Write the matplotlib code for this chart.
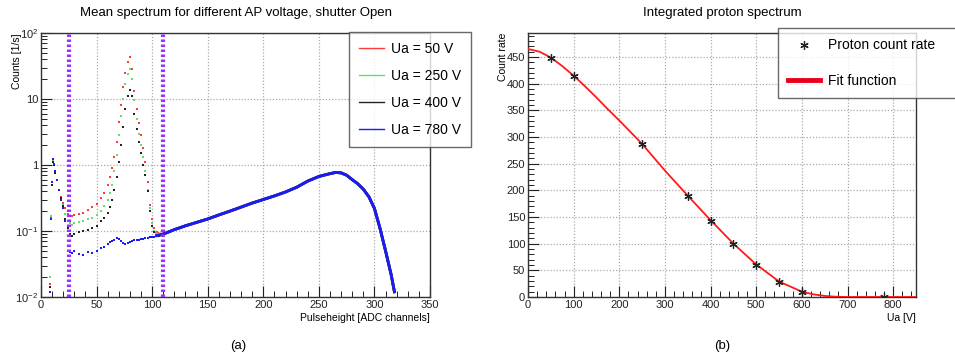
import numpy as np
import matplotlib
matplotlib.use('Agg')
import matplotlib.pyplot as plt
from matplotlib.ticker import MultipleLocator, FixedLocator, LogLocator, NullFormatter
from matplotlib.lines import Line2D

plt.rcParams['font.family'] = ['Liberation Sans', 'DejaVu Sans']
plt.rcParams['mathtext.fontset'] = 'custom'
plt.rcParams['mathtext.rm'] = 'Liberation Sans'
plt.rcParams['mathtext.default'] = 'regular'

# ---- left panel data ----
head_x = [8, 9, 10, 11, 12, 13, 14, 16, 18, 20, 22, 24, 26, 28, 30, 34, 38, 42, 46, 50,
          54, 57, 60, 62, 64, 66, 68, 70, 72, 74, 76, 78, 80, 82, 84, 86, 88, 90, 92, 94,
          96, 98, 100, 102, 104, 106, 108]
red_head = [0.016, 0.16, 0.5, 1.2, 1.0, 0.75, 0.6, 0.42, 0.33, 0.27, 0.22, 0.18, 0.17, 0.17,
            0.175, 0.18, 0.19, 0.21, 0.23, 0.26, 0.32, 0.38, 0.5, 0.65, 0.9, 1.3, 2.2, 4.5,
            8, 15, 25, 36, 44, 28, 13, 7, 4.3, 2.8, 1.8, 1.1, 0.55, 0.25, 0.15, 0.11, 0.095,
            0.09, 0.09]
green_head = [0.02, 0.17, 0.5, 1.15, 1.0, 0.75, 0.6, 0.42, 0.32, 0.25, 0.18, 0.14, 0.13, 0.125,
              0.13, 0.135, 0.14, 0.15, 0.16, 0.175, 0.2, 0.24, 0.3, 0.37, 0.5, 0.8, 1.4, 2.8,
              5.5, 10, 17, 24, 28, 20, 9.5, 5, 3, 2, 1.3, 0.8, 0.42, 0.22, 0.13, 0.1, 0.09,
              0.088, 0.088]
black_head = [0.014, 0.15, 0.5, 1.1, 1.0, 0.75, 0.6, 0.42, 0.32, 0.24, 0.15, 0.11, 0.09, 0.085,
              0.09, 0.095, 0.1, 0.105, 0.11, 0.12, 0.14, 0.16, 0.19, 0.23, 0.3, 0.42, 0.65, 1.1,
              2.0, 3.8, 7, 11, 13.5, 11, 6, 3.5, 2.2, 1.5, 1.0, 0.7, 0.4, 0.2, 0.12, 0.095,
              0.085, 0.085, 0.088]
blue_head = [0.012, 0.15, 0.55, 1.25, 1.05, 0.8, 0.6, 0.42, 0.3, 0.22, 0.14, 0.07, 0.048, 0.047,
             0.05, 0.045, 0.043, 0.048, 0.047, 0.05, 0.055, 0.058, 0.063, 0.068, 0.07, 0.074,
             0.077, 0.075, 0.07, 0.065, 0.063, 0.066, 0.068, 0.07, 0.072, 0.073, 0.074, 0.075,
             0.075, 0.077, 0.078, 0.08, 0.08, 0.082, 0.085, 0.087, 0.088]
tail_x = [110, 115, 120, 125, 130, 140, 150, 160, 170, 180, 190, 200, 210, 220, 230, 240,
          250, 260, 265, 270, 275, 280, 285, 290, 295, 300, 305, 310, 315, 318]
tail_y = [0.09, 0.097, 0.105, 0.112, 0.12, 0.135, 0.152, 0.175, 0.2, 0.23, 0.265, 0.3, 0.34,
          0.39, 0.46, 0.57, 0.67, 0.74, 0.77, 0.76, 0.70, 0.60, 0.52, 0.43, 0.33, 0.22, 0.11,
          0.05, 0.022, 0.012]
series_labels = ['Ua = 50 V', 'Ua = 250 V', 'Ua = 400 V', 'Ua = 780 V']
series_colors = ['#ff3b3b', '#66dd66', '#222222', '#1a1aff']
cut_lines = [25, 110]

# ---- right panel data ----
ua = [50, 100, 250, 350, 400, 450, 500, 550, 600, 780]
rate = [448, 415, 287, 190, 143, 100, 60, 28, 10, 0]
fit_ua = [0, 25, 50, 75, 100, 125, 150, 175, 200, 250, 300, 350, 400, 450, 500, 550, 600,
          625, 650, 675, 700, 850]
fit_rate = [465, 460, 449, 433, 415, 395, 374, 352, 331, 287, 237, 190, 144, 100, 61, 29, 10,
            5, 2, 0.5, 0, 0]

W, H = 955, 363
fig = plt.figure(figsize=(W / 100, H / 100), dpi=100)

def fx(px):
    return px / W

def fy(py):
    return 1 - py / H

ax1 = fig.add_axes([fx(41), fy(297), fx(430) - fx(41), fy(33) - fy(297)])
ax2 = fig.add_axes([fx(528), fy(297), fx(916) - fx(528), fy(33) - fy(297)])

grid_kw = dict(color='#aaaaaa', linestyle=(0, (1, 1.5)), linewidth=0.9)

# left panel
heads = [red_head, green_head, black_head, blue_head]
for vals, col, lab in zip(heads, series_colors, series_labels):
    xs = head_x + tail_x
    ys = vals + tail_y
    ax1.plot(xs, ys, linestyle='none', marker='s', markersize=2.0, color=col, mew=0)
    ax1.plot(xs[-len(tail_x) - 3:], ys[-len(tail_x) - 3:], color=col, linewidth=2.0)
for cx in cut_lines:
    ax1.axvline(cx, color='#9b30ff', linestyle=(0, (0.6, 0.6)), linewidth=3, zorder=4)

ax1.set_yscale('log')
ax1.set_xlim(0, 350)
ax1.set_ylim(0.01, 100)
ax1.xaxis.set_major_locator(MultipleLocator(50))
ax1.xaxis.set_minor_locator(MultipleLocator(10))
ax1.yaxis.set_major_locator(FixedLocator([0.01, 0.1, 1, 10, 100]))
ax1.set_yticklabels(['$10^{-2}$', '$10^{-1}$', '1', '10', '$10^{2}$'])
ax1.yaxis.set_minor_locator(LogLocator(base=10, subs=np.arange(2, 10), numticks=20))
ax1.yaxis.set_minor_formatter(NullFormatter())
ax1.grid(True, which='major', **grid_kw)
ax1.set_title('Mean spectrum for different AP voltage, shutter Open', fontsize=9.5, pad=12)
ax1.set_xlabel('Pulseheight [ADC channels]', fontsize=7.5, loc='right', labelpad=2)
ax1.set_ylabel('Counts [1/s]', fontsize=7.5, loc='top')
ax1.yaxis.set_label_coords(-0.050, 1.0)

handles1 = [Line2D([], [], color=c, linewidth=1) for c in series_colors]
fig.legend(handles1, series_labels, loc='upper left', bbox_to_anchor=(fx(349), fy(32)),
           bbox_transform=fig.transFigure, frameon=True, fancybox=False, edgecolor='#444444',
           fontsize=10, handlelength=1.8, handletextpad=0.5, labelspacing=0.95,
           borderpad=0.7, borderaxespad=0)

# right panel
ax2.plot(fit_ua, fit_rate, color='#ff1a1a', linewidth=1.3, zorder=3)
ax2.plot(ua, rate, linestyle='none', marker=(6, 2, 0), markersize=6, color='#222222',
         mew=0.9, zorder=4)
ax2.set_xlim(0, 850)
ax2.set_ylim(0, 495)
ax2.xaxis.set_major_locator(MultipleLocator(100))
ax2.xaxis.set_minor_locator(MultipleLocator(20))
ax2.yaxis.set_major_locator(MultipleLocator(50))
ax2.yaxis.set_minor_locator(MultipleLocator(10))
ax2.grid(True, which='major', **grid_kw)
ax2.set_title('Integrated proton spectrum', fontsize=9.5, pad=12)
ax2.set_xlabel('Ua [V]', fontsize=7.5, loc='right', labelpad=2)
ax2.set_ylabel('Count rate', fontsize=7.5, loc='top')
ax2.yaxis.set_label_coords(-0.051, 1.0)

handles2 = [Line2D([], [], linestyle='none', marker=(6, 2, 0), markersize=6,
                   color='#222222', mew=0.9),
            Line2D([], [], color='#e8001c', linewidth=3.5)]
fig.legend(handles2, ['Proton count rate', 'Fit function'], loc='upper left',
           bbox_to_anchor=(fx(778), fy(98), 0.3, fy(28) - fy(98)), mode='expand',
           bbox_transform=fig.transFigure, frameon=True, fancybox=False, edgecolor='#444444',
           fontsize=10, handlelength=2.3, handletextpad=0.55, labelspacing=1.55,
           borderpad=0.75, borderaxespad=0)

for ax in (ax1, ax2):
    ax.tick_params(which='both', direction='in', top=False, right=False, labelsize=8,
                   colors='#222222', pad=2)
    ax.tick_params(which='major', length=8, width=0.8)
    ax.tick_params(which='minor', length=4, width=0.7)
    for s in ax.spines.values():
        s.set_color('#333333')
        s.set_linewidth(1)

fig.text(fx(238), fy(346), '(a)', ha='center', va='center', fontsize=9.5)
fig.text(fx(722), fy(346), '(b)', ha='center', va='center', fontsize=9.5)

fig.savefig('out.png', dpi=100)
